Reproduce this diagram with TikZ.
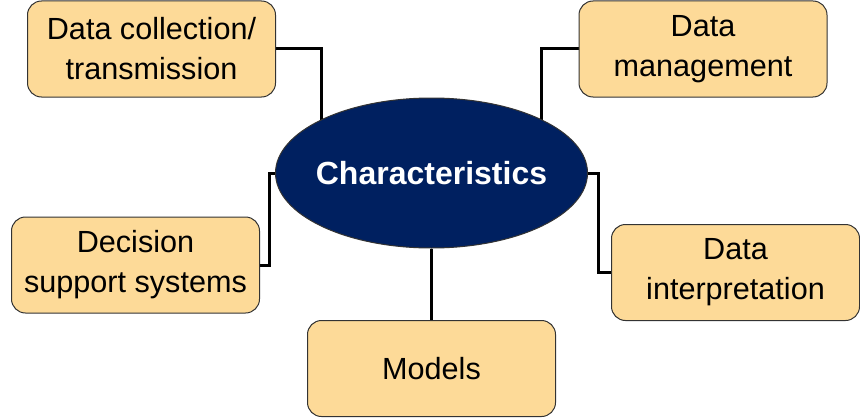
\documentclass[tikz,border=0pt]{standalone}
\usepackage{fontspec}
\setmainfont{Liberation Sans}
\usepackage{tikz}
\usetikzlibrary{calc,shapes,positioning,backgrounds}
\definecolor{boxfill}{HTML}{FDDA98}
\definecolor{navy}{HTML}{002060}

\begin{document}
\begin{tikzpicture}[
  x=0.5pt, y=-0.5pt,
  every node/.style={font=\fontsize{15.3}{20}\selectfont},
  box/.style={rectangle, rounded corners=7pt, draw=black!80, line width=0.5pt, fill=boxfill, minimum width=124pt, minimum height=48pt, inner sep=0pt, align=center},
  hub/.style={ellipse, draw=black!80, line width=0.5pt, fill=navy, text=white, minimum width=156pt, minimum height=75pt, inner sep=0pt, inner xsep=-15pt, font=\fontsize{16}{20}\selectfont\bfseries},
  ln/.style={line width=1.5pt, black}
]
  \useasboundingbox (0,0) rectangle (860,417);
  \node[hub] (char) at (431.5,173) {Characteristics};
  \node[box] (dc) at (151.5,49) {Data collection/\\transmission};
  \node[box] (dm) at (703,49) {Data\\management};
  \node[box] (dss) at (135.5,265) {Decision\\support systems};
  \node[box] (di) at (735.5,272.5) {Data\\interpretation};
  \node[box] (mod) at (431.5,368.5) {Models};
  \begin{scope}[on background layer]
    \draw[ln] (dc.east) -| ($(char.center)+(-110,0)$);
    \draw[ln] (dm.west) -| ($(char.center)+(110,0)$);
    \draw[ln] (char.west) -| ($(dss.east)+(9,0)$) -- (dss.east);
    \draw[ln] (char.east) -| ($(di.west)+(-13,0)$) -- (di.west);
    \draw[ln] (char.south) -- (mod.north);
  \end{scope}
\end{tikzpicture}
\end{document}
